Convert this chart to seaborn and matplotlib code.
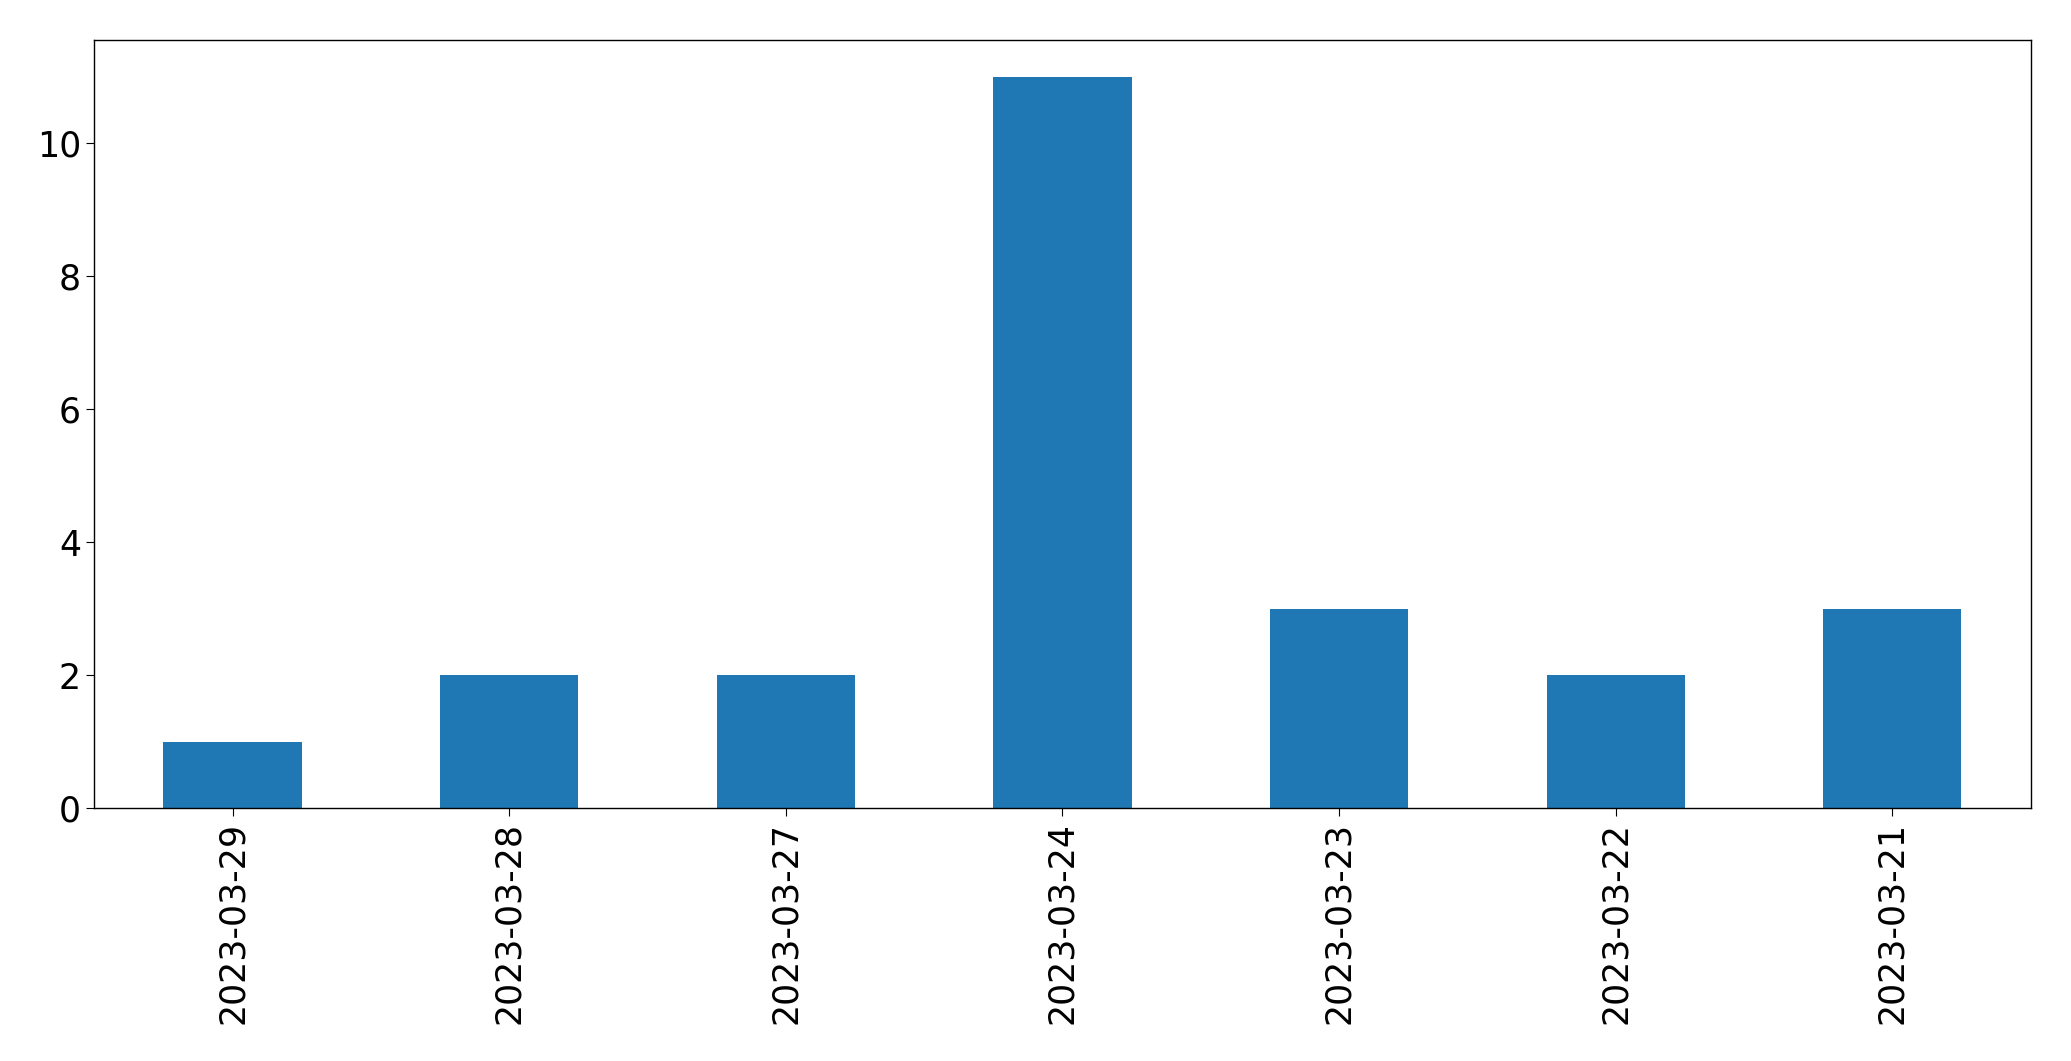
import matplotlib
matplotlib.use("Agg")
import matplotlib.pyplot as plt
import seaborn as sns
import pandas as pd

# ============================================================
# Data
# ============================================================

dates = ["2023-03-29", "2023-03-28", "2023-03-27", "2023-03-24",
         "2023-03-23", "2023-03-22", "2023-03-21"]
counts = [1, 2, 2, 11, 3, 2, 3]

df = pd.DataFrame({"date": dates, "count": counts})

# ============================================================
# Plot
# ============================================================

sns.set_style("white")
plt.rcParams["font.family"] = ["DejaVu Sans"]

fig, ax = plt.subplots(figsize=(20.71, 10.61), dpi=100)
sns.barplot(data=df, x="date", y="count", color="#1f77b4",
            width=0.5, saturation=1, linewidth=0, ax=ax)

ax.set_xlim(-0.5, len(dates) - 0.5)
ax.set_ylim(0, 11.55)
ax.set_xlabel("")
ax.set_ylabel("")
ax.tick_params(axis="both", labelsize=25, length=6, bottom=True, left=True,
               colors="black")
plt.setp(ax.get_xticklabels(), rotation=90)
for s in ax.spines.values():
    s.set_color("black")
    s.set_linewidth(1)

fig.subplots_adjust(left=0.0455, right=0.9805, top=0.962, bottom=0.238)
fig.savefig("out.png", dpi=100)
